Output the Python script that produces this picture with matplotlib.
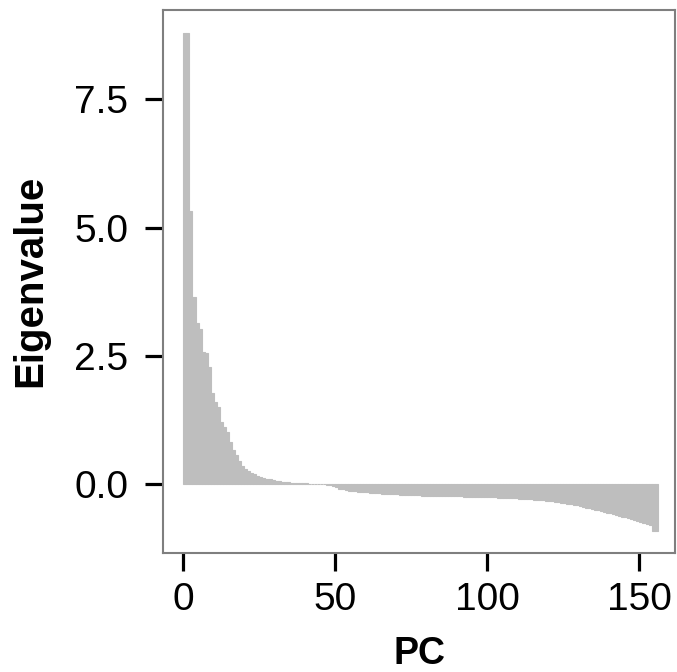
import numpy as np
import matplotlib
matplotlib.use('Agg')
import matplotlib.pyplot as plt

# eigenvalues, PC order
eig_top = [8.80, 8.80, 5.33, 3.65, 3.14, 3.03, 2.58, 2.55, 2.29, 1.78, 1.61,
           1.51, 1.22, 1.12, 1.02, 0.83, 0.67, 0.57, 0.45, 0.36, 0.30]
eig_tail = [0.26, 0.23, 0.20, 0.17, 0.15, 0.13, 0.11, 0.10, 0.08, 0.07,
            0.06, 0.05, 0.045, 0.04, 0.035, 0.03, 0.025, 0.022, 0.02, 0.018,
            0.016, 0.014, 0.012, 0.01, 0.008, 0.005, -0.005]
eig_neg = [-0.01, -0.03, -0.06, -0.08, -0.09, -0.11, -0.12, -0.13, -0.135,
           -0.14, -0.145, -0.15, -0.155, -0.16, -0.165, -0.17, -0.175, -0.18,
           -0.183, -0.186, -0.189, -0.192, -0.195, -0.198, -0.201, -0.204,
           -0.207, -0.21,
           -0.212, -0.214, -0.216, -0.218, -0.22, -0.222, -0.224, -0.226,
           -0.228, -0.229, -0.23,
           -0.231, -0.232, -0.233, -0.234, -0.235, -0.236, -0.237, -0.238,
           -0.24, -0.242, -0.244, -0.246, -0.248, -0.25,
           -0.252, -0.254, -0.256, -0.258, -0.26, -0.263, -0.266, -0.269,
           -0.272, -0.275,
           -0.279, -0.283, -0.287, -0.291, -0.295, -0.299, -0.304, -0.309,
           -0.314, -0.32,
           -0.33, -0.34, -0.35, -0.36, -0.37, -0.38, -0.39, -0.40,
           -0.41, -0.42, -0.44, -0.45, -0.46, -0.47, -0.49, -0.50,
           -0.52, -0.53, -0.55, -0.56, -0.58, -0.59, -0.61,
           -0.63, -0.64, -0.66, -0.68, -0.70,
           -0.72, -0.73, -0.75, -0.77, -0.80,
           -0.90, -0.91]
eigenvalues = eig_top + eig_tail + eig_neg
pc = np.arange(len(eigenvalues))

x_ticks = [0, 50, 100, 150]
y_ticks = [0.0, 2.5, 5.0, 7.5]

plt.rcParams['font.family'] = ['Liberation Sans', 'DejaVu Sans']

fig = plt.figure(figsize=(6.77, 6.72), dpi=100)
ax = fig.add_axes([163 / 677, 1 - 552.7 / 672, 512 / 677, 542.7 / 672])

ax.bar(pc, eigenvalues, width=1.0, align='edge', color='#BEBEBE',
       edgecolor='#BEBEBE', linewidth=0.8)

ax.set_xlim(-6.7, 161.7)
ax.set_ylim(-1.33, 9.24)
ax.set_xticks(x_ticks)
ax.set_yticks(y_ticks)
ax.set_yticklabels([f'{v:.1f}' for v in y_ticks])

for s in ax.spines.values():
    s.set_color('#7F7F7F')
    s.set_linewidth(1.5)

ax.tick_params(axis='both', direction='out', length=13, width=2.3,
               color='black', labelsize=28, labelcolor='black')
ax.tick_params(axis='y', pad=12)
ax.tick_params(axis='x', pad=8)

ax.set_xlabel('PC', fontsize=27, fontweight='bold')
ax.set_ylabel('Eigenvalue', fontsize=29, fontweight='bold')
ax.xaxis.set_label_coords(0.5, -0.153)
ax.yaxis.set_label_coords(-0.223, 0.5)

fig.savefig('out.png', dpi=100)
